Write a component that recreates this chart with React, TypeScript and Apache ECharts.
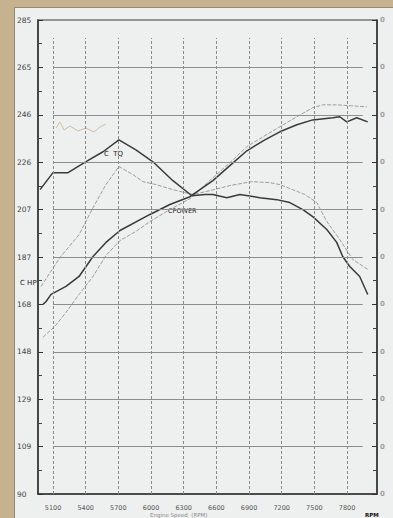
import React, { useEffect, useRef } from "react";
import * as echarts from "echarts";

// X axis (engine speed, rpm) tick labels
const rpmTicks = [5100, 5400, 5700, 6000, 6300, 6600, 6900, 7200, 7500, 7800];
// Horizontal grid values (left axis ticks between min and max)
const hGridValues = [109.5, 129, 148.5, 168, 187.5, 207, 226.5, 246, 265.5];

// C TQ (dark torque)
const ctqRpm = [4981, 5100, 5238, 5403, 5559, 5705, 5861, 6027, 6201, 6375, 6494, 6568, 6696, 6816, 6999, 7155, 7274, 7394, 7485, 7614, 7705, 7760, 7825, 7916, 7990];
const ctqVal = [215.2, 222.2, 222.2, 226.7, 230.8, 235.7, 231.6, 226.3, 218.9, 212.7, 213.2, 213.2, 211.9, 213.2, 211.9, 211.1, 209.9, 207.0, 204.1, 198.8, 193.5, 187.7, 183.6, 179.5, 172.1];

// C HP (dark power)
const chpRpm = [5008, 5036, 5082, 5219, 5339, 5467, 5586, 5715, 5990, 6173, 6357, 6568, 6724, 6880, 7045, 7183, 7339, 7485, 7669, 7733, 7797, 7889, 7990];
const chpVal = [168.0, 169.2, 172.1, 175.4, 179.5, 187.7, 193.5, 198.4, 205.0, 209.1, 212.3, 218.9, 225.1, 231.2, 235.7, 239.0, 241.9, 243.9, 244.8, 245.2, 243.1, 244.8, 243.1];

// Second run torque (light)
const ltqRpm = [4990, 5164, 5339, 5467, 5586, 5705, 5834, 5926, 6045, 6201, 6384, 6540, 6724, 6926, 7091, 7183, 7302, 7412, 7522, 7614, 7733, 7852, 7990];
const ltqVal = [175.4, 187.3, 196.7, 207.8, 217.3, 224.7, 221.4, 218.5, 217.3, 215.2, 213.2, 214.8, 216.9, 218.5, 218.1, 217.3, 215.2, 213.2, 209.9, 202.1, 194.7, 186.5, 182.4];

// Second run power (light)
const lhpRpm = [5008, 5118, 5219, 5339, 5467, 5586, 5715, 5861, 5990, 6173, 6357, 6568, 6724, 6880, 7045, 7183, 7339, 7485, 7577, 7705, 7843, 7981];
const lhpVal = [154.5, 159.0, 164.7, 172.1, 179.5, 188.1, 194.3, 198.0, 202.1, 207.0, 211.5, 220.1, 226.3, 232.9, 237.4, 241.1, 245.2, 248.9, 250.1, 250.1, 249.7, 249.3];

const X_MIN = 4962;
const X_MAX = 8075;
const Y_MIN = 90;
const Y_MAX = 285;
const Y_STEP = 19.5;
const H_GRID_END = 7944;
const V_GRID_TOP = 277.6;

const pairs = (xs: number[], ys: number[]) => xs.map((x, i) => [x, ys[i]]);

export default function App() {
  const ref = useRef<HTMLDivElement>(null);

  useEffect(() => {
    document.body.style.margin = "0";
    const chart = echarts.init(ref.current!, null, { renderer: "svg" });
    const dark = "#3a3a3a";
    const light = "#9c9c9c";
    const font = "DejaVu Sans";

    const gridLines: any[] = [
      ...hGridValues.map((v) => [
        { coord: [5100, v], lineStyle: { type: "solid", color: "#8e8e8e", width: 1 } },
        { coord: [H_GRID_END, v] },
      ]),
      ...rpmTicks.map((r) => [
        { coord: [r, Y_MIN], lineStyle: { type: [3, 2], color: "#8a8a8a", width: 1 } },
        { coord: [r, V_GRID_TOP] },
      ]),
    ];

    chart.setOption({
      animation: false,
      backgroundColor: "transparent",
      grid: {
        left: 38,
        right: 16,
        top: 20,
        bottom: 24,
        show: true,
        borderColor: "#3a3a3a",
        borderWidth: 1.2,
        backgroundColor: "transparent",
      },
      xAxis: {
        type: "value",
        min: X_MIN,
        max: X_MAX,
        splitLine: { show: false },
        axisLine: { show: true, lineStyle: { color: "#333", width: 1.5 } },
        axisTick: { show: true, inside: true, length: 3, customValues: rpmTicks, lineStyle: { color: "#333" } },
        axisLabel: {
          customValues: rpmTicks,
          formatter: (v: number) => String(v),
          fontSize: 6.5,
          fontFamily: font,
          color: "#555",
          margin: 10,
        },
      },
      yAxis: [
        {
          type: "value",
          min: Y_MIN,
          max: Y_MAX,
          interval: Y_STEP,
          position: "left",
          splitLine: { show: false },
          axisLine: { show: true, lineStyle: { color: "#333", width: 1.5 } },
          axisTick: { show: true, inside: true, length: 5, lineStyle: { color: "#333" } },
          minorTick: { show: true, splitNumber: 2, length: 4, lineStyle: { color: "#444" } },
          axisLabel: {
            formatter: (v: number) => String(Math.floor(v)),
            fontSize: 7.5,
            fontFamily: font,
            color: "#444",
            align: "left",
            margin: 21,
            padding: [11, 0, 0, 0],
          },
        },
        {
          type: "value",
          min: Y_MIN,
          max: Y_MAX,
          interval: Y_STEP,
          position: "right",
          splitLine: { show: false },
          axisLine: { show: true, lineStyle: { color: "#333", width: 1.5 } },
          axisTick: { show: true, inside: true, length: 5, lineStyle: { color: "#333" } },
          minorTick: { show: true, splitNumber: 2, length: 4, lineStyle: { color: "#444" } },
          axisLabel: {
            formatter: () => "0",
            fontSize: 7,
            fontWeight: "bold",
            fontFamily: font,
            color: "#a0a0a0",
            align: "left",
            margin: 3,
            padding: [8, 0, 0, 0],
          },
        },
      ],
      series: [
        {
          type: "line",
          name: "grid",
          data: [],
          silent: true,
          z: 1,
          markLine: {
            silent: true,
            symbol: "none",
            label: { show: false },
            animation: false,
            data: gridLines,
          },
        },
        {
          type: "line",
          name: "HP 2",
          data: pairs(lhpRpm, lhpVal),
          showSymbol: false,
          z: 3,
          lineStyle: { color: light, width: 1, type: [4, 1.5] },
        },
        {
          type: "line",
          name: "TQ 2",
          data: pairs(ltqRpm, ltqVal),
          showSymbol: false,
          z: 3,
          lineStyle: { color: light, width: 1, type: [4, 1.5] },
        },
        {
          type: "line",
          name: "C HP",
          data: pairs(chpRpm, chpVal),
          showSymbol: false,
          z: 4,
          lineStyle: { color: dark, width: 1.5 },
        },
        {
          type: "line",
          name: "C TQ",
          data: pairs(ctqRpm, ctqVal),
          showSymbol: false,
          z: 4,
          lineStyle: { color: dark, width: 1.5 },
        },
      ],
      graphic: [
        { type: "text", left: 104, top: 150, style: { text: "C  TQ", fontSize: 7, fontFamily: font, fill: "#222" } },
        { type: "text", left: 20, top: 279, style: { text: "C HP", fontSize: 7, fontFamily: font, fill: "#222" } },
        { type: "text", left: 168, top: 207, style: { text: "CPOWER", fontSize: 6.5, fontFamily: font, fill: "#222" } },
        {
          type: "polyline",
          silent: true,
          shape: { points: [[56, 128], [60, 122], [64, 130], [70, 126], [78, 131], [86, 128], [94, 132], [100, 127], [106, 124]] },
          style: { stroke: "#cdbfa6", lineWidth: 1, fill: "none" },
        },
        { type: "text", left: 150, top: 512, style: { text: "Engine Speed  (RPM)", fontSize: 5.5, fontFamily: font, fill: "#8a8a8a" } },
        { type: "text", left: 365, top: 512, style: { text: "RPM", fontSize: 5.5, fontWeight: "bold", fontFamily: font, fill: "#111" } },
      ],
    });
    return () => chart.dispose();
  }, []);

  return (
    <div style={{ position: "fixed", left: 0, top: 0, width: 393, height: 518, background: "#c6b28f", overflow: "hidden" }}>
      <div
        style={{
          position: "absolute",
          left: 14,
          top: 7,
          width: 379,
          height: 511,
          background: "#eef0ef",
          borderLeft: "1px solid #8f8b80",
          borderTop: "1px solid #8f8b80",
          boxSizing: "border-box",
        }}
      />
      <div ref={ref} style={{ position: "absolute", left: 0, top: 0, width: 393, height: 518 }} />
    </div>
  );
}
